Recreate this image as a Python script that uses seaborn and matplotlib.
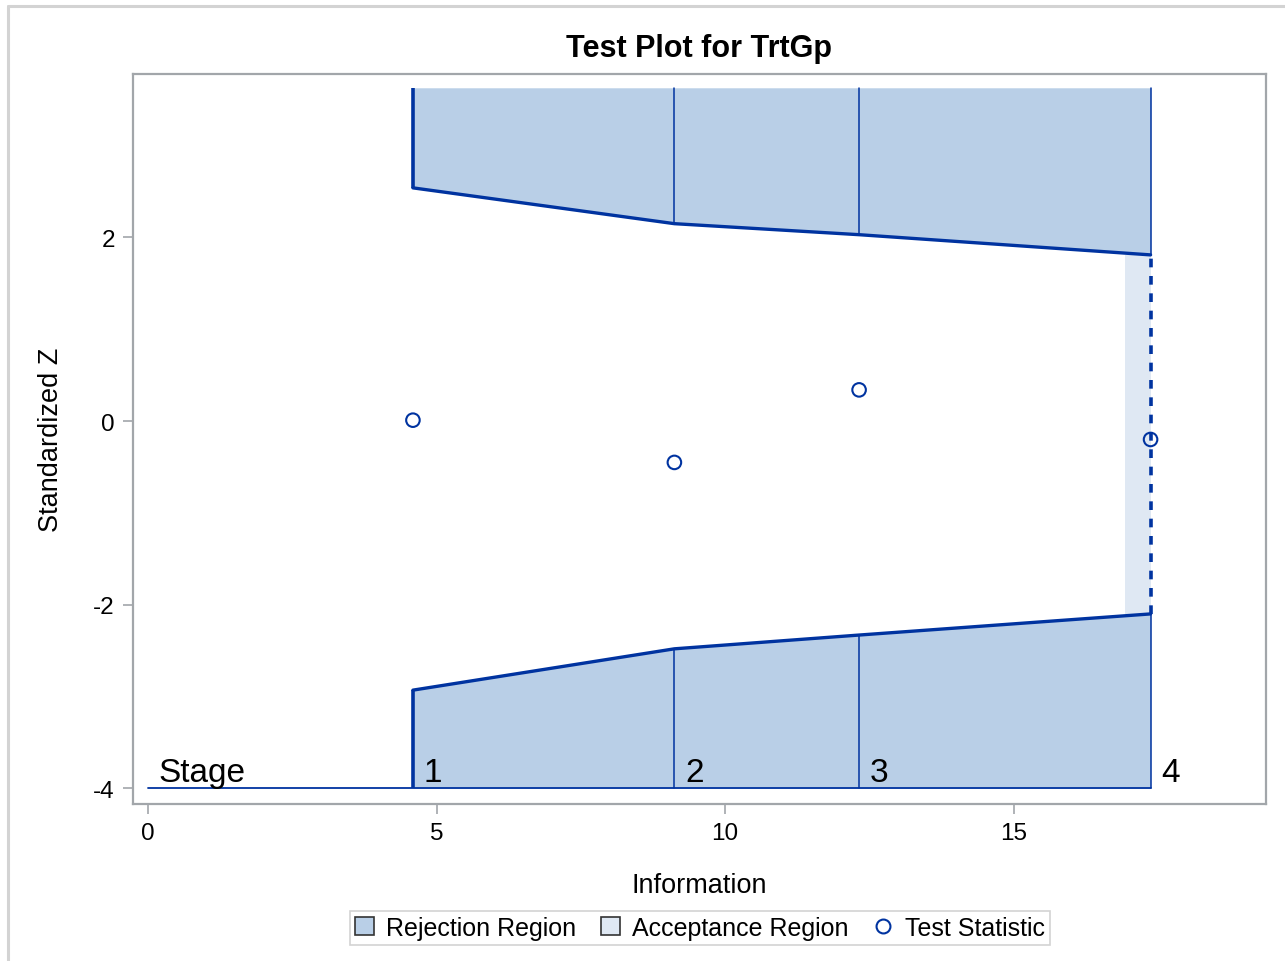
import numpy as np
import pandas as pd
import matplotlib
matplotlib.use("Agg")
import matplotlib.pyplot as plt
from matplotlib.patches import Patch
from matplotlib.lines import Line2D
import seaborn as sns

# Datos
stages = ["1", "2", "3", "4"]
information = [4.59, 9.12, 12.32, 17.37]
upper_bound = [2.54, 2.15, 2.03, 1.81]
lower_bound = [-2.93, -2.48, -2.33, -2.10]
test_statistic = [0.01, -0.45, 0.34, -0.20]
accept_start = 16.93
z_top = 3.63
z_bottom = -4.0

x_ticks = [0, 5, 10, 15]
y_ticks = [-4, -2, 0, 2]

c_line = "#0033A0"
c_reject = "#B9CFE7"
c_accept = "#DFE8F3"
c_spine = "#A2A6AA"

sns.set_theme(style="white")
plt.rcParams["font.family"] = ["Liberation Sans", "DejaVu Sans"]
plt.rcParams["axes.unicode_minus"] = False
plt.rcParams["text.color"] = "black"
plt.rcParams["axes.labelcolor"] = "black"

df = pd.DataFrame({"Information": information, "Z": test_statistic})

fig = plt.figure(figsize=(12.85, 9.62), dpi=100)
ax = fig.add_axes([133 / 1285, 1 - 805 / 962, (1266 - 133) / 1285, (805 - 75) / 962])

# Regiones de rechazo
ax.fill_between(information, upper_bound, z_top, color=c_reject, lw=0, zorder=1)
ax.fill_between(information, z_bottom, lower_bound, color=c_reject, lw=0, zorder=1)
# Región de aceptación
ax.fill_between([accept_start, information[-1]], [lower_bound[-1]] * 2,
                [upper_bound[-1]] * 2, color=c_accept, lw=0, zorder=1)

# Fronteras
sns.lineplot(x=information, y=upper_bound, color=c_line, lw=2.4, ax=ax, zorder=3)
sns.lineplot(x=information, y=lower_bound, color=c_line, lw=2.4, ax=ax, zorder=3)
ax.plot([information[0]] * 2, [upper_bound[0], z_top], color=c_line, lw=2.6,
        solid_capstyle="butt", zorder=3)
ax.plot([information[0]] * 2, [z_bottom, lower_bound[0]], color=c_line, lw=2.6,
        solid_capstyle="butt", zorder=3)
for xi, up, lo in zip(information[1:], upper_bound[1:], lower_bound[1:]):
    ax.plot([xi, xi], [up, z_top], color=c_line, lw=1.1, zorder=2)
    ax.plot([xi, xi], [z_bottom, lo], color=c_line, lw=1.1, zorder=2)
ax.plot([information[-1]] * 2, [lower_bound[-1], upper_bound[-1]], color=c_line,
        lw=2.6, ls=(0, (2.4, 2.4)), zorder=3)

# Línea base de etapas
ax.plot([0, information[-1]], [z_bottom, z_bottom], color=c_line, lw=1.3, zorder=3)
ax.text(0.18, z_bottom + 0.0, "Stage", fontsize=24, va="bottom", ha="left")
for xi, lab in zip(information, stages):
    ax.text(xi + 0.19, z_bottom + 0.0, lab, fontsize=24, va="bottom", ha="left")

# Estadístico de prueba
sns.scatterplot(data=df, x="Information", y="Z", ax=ax, marker="o", s=95,
                facecolor="none", edgecolor=c_line, linewidth=1.5, zorder=4)

ax.set_xlim(-0.26, 19.37)
ax.set_ylim(-4.17, 3.78)
ax.set_xticks(x_ticks)
ax.set_yticks(y_ticks)
ax.tick_params(axis="both", labelsize=17.5, colors=c_spine, labelcolor="black",
               length=7, width=1.2, direction="out", bottom=True, left=True, pad=6)
for s in ax.spines.values():
    s.set_color(c_spine)
    s.set_linewidth(1.6)
ax.set_xlabel("Information", fontsize=19.5, labelpad=20)
ax.set_ylabel("Standardized Z", fontsize=19.5, labelpad=21)
ax.set_title("Test Plot for TrtGp", fontsize=22, fontweight="bold", pad=13)

handles = [
    Patch(facecolor=c_reject, edgecolor="#333333", lw=1.2, label="Rejection Region"),
    Patch(facecolor=c_accept, edgecolor="#333333", lw=1.2, label="Acceptance Region"),
    Line2D([], [], marker="o", ls="none", markerfacecolor="none", markeredgecolor=c_line,
           markersize=10, markeredgewidth=1.5, label="Test Statistic"),
]
leg = fig.legend(handles=handles, loc="center", bbox_to_anchor=(700 / 1285, 1 - 929 / 962),
                 ncol=3, fontsize=18, frameon=True, fancybox=False,
                 handlelength=0.75, handleheight=0.75, handletextpad=0.5, columnspacing=1.0,
                 borderpad=0.2)
leg.get_frame().set_edgecolor("#C8C8C8")
leg.get_frame().set_linewidth(1.2)

# Borde exterior
fig.add_artist(Line2D([8 / 1285, 1], [1 - 7 / 962] * 2, color="#D3D3D3", lw=2.2))
fig.add_artist(Line2D([8 / 1285] * 2, [0, 1 - 7 / 962], color="#D3D3D3", lw=2.2))

fig.savefig("out.png", dpi=100)
